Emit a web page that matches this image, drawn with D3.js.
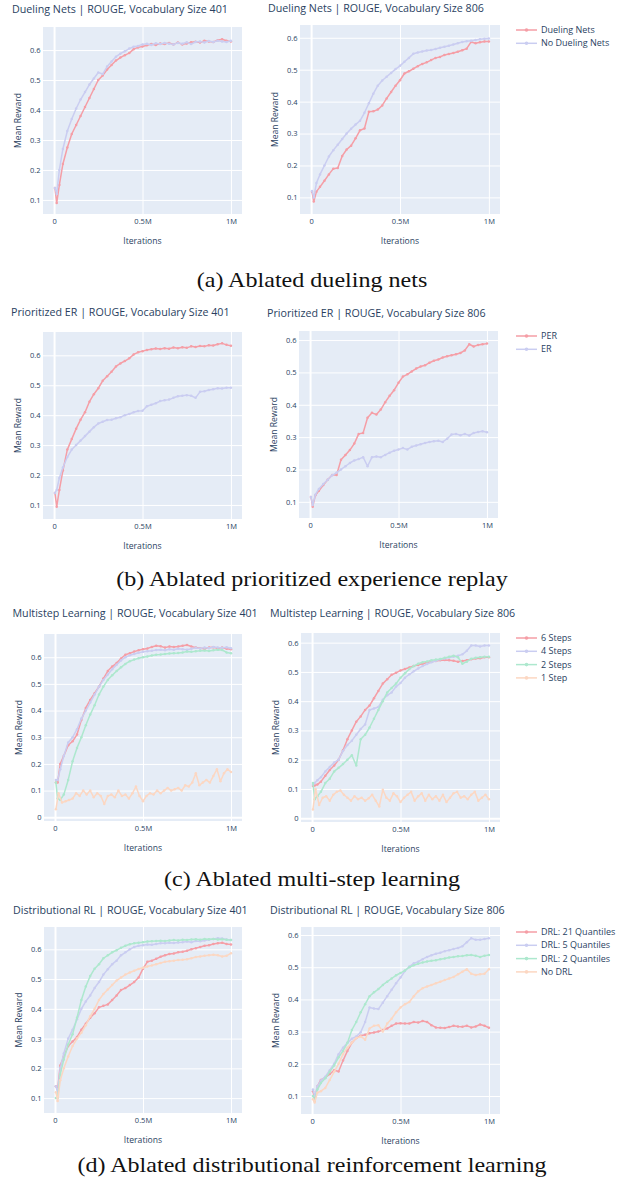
<!DOCTYPE html>
<html><head><meta charset="utf-8">
<script src="https://cdn.jsdelivr.net/npm/d3@7"></script>
<style>body{margin:0;background:#fff;} svg{display:block;}</style>
</head><body><svg id="chart" width="626" height="1179"></svg>
<script>
// ---------------- DATA ----------------
const iters = [
 0.005, 0.015, 0.03, 0.05, 0.075, 0.1, 0.125,
 0.15, 0.175, 0.2, 0.225, 0.25, 0.275, 0.3,
 0.325, 0.35, 0.375, 0.4, 0.425, 0.45, 0.475,
 0.5, 0.525, 0.55, 0.575, 0.6, 0.625, 0.65,
 0.675, 0.7, 0.725, 0.75, 0.775, 0.8, 0.825,
 0.85, 0.875, 0.9, 0.925, 0.95, 0.975, 1.0];
const itersFine = [
 0.005, 0.02, 0.04, 0.06, 0.08, 0.1, 0.12, 0.14, 0.16, 0.18,
 0.2, 0.22, 0.24, 0.26, 0.28, 0.3, 0.32, 0.34, 0.36, 0.38,
 0.4, 0.42, 0.44, 0.46, 0.48, 0.5, 0.52, 0.54, 0.56, 0.58,
 0.6, 0.62, 0.64, 0.66, 0.68, 0.7, 0.72, 0.74, 0.76, 0.78,
 0.8, 0.82, 0.84, 0.86, 0.88, 0.9, 0.92, 0.94, 0.96, 0.98,
 1.0];

const panelTitles = [
 "Dueling Nets | ROUGE, Vocabulary Size 401", "Dueling Nets | ROUGE, Vocabulary Size 806",
 "Prioritized ER | ROUGE, Vocabulary Size 401", "Prioritized ER | ROUGE, Vocabulary Size 806",
 "Multistep Learning | ROUGE, Vocabulary Size 401", "Multistep Learning | ROUGE, Vocabulary Size 806",
 "Distributional RL | ROUGE, Vocabulary Size 401", "Distributional RL | ROUGE, Vocabulary Size 806"];
const captions = ["(a) Ablated dueling nets", "(b) Ablated prioritized experience replay",
 "(c) Ablated multi-step learning", "(d) Ablated distributional reinforcement learning"];
const legendDueling = ["Dueling Nets", "No Dueling Nets"];
const legendPER = ["PER", "ER"];
const legendSteps = ["6 Steps", "4 Steps", "2 Steps", "1 Step"];
const legendDRL = ["DRL: 21 Quantiles", "DRL: 5 Quantiles", "DRL: 2 Quantiles", "No DRL"];
const xTickValues = [0, 0.5, 1];
const xTickLabels = ["0", "0.5M", "1M"];
const yTicksFrom01 = [0.1, 0.2, 0.3, 0.4, 0.5, 0.6];
const yTicksFrom0 = [0, 0.1, 0.2, 0.3, 0.4, 0.5, 0.6];
const xAxisTitle = "Iterations";
const yAxisTitle = "Mean Reward";

// (a) Dueling nets
const duel401_dueling = [
 0.14, 0.09, 0.15, 0.22, 0.275, 0.32, 0.35,
 0.38, 0.41, 0.44, 0.47, 0.50, 0.515, 0.535,
 0.55, 0.565, 0.575, 0.583, 0.59, 0.603, 0.609,
 0.612, 0.616, 0.62, 0.617, 0.622, 0.62, 0.624,
 0.619, 0.625, 0.619, 0.622, 0.626, 0.628, 0.625,
 0.631, 0.629, 0.627, 0.633, 0.636, 0.631, 0.629];
const duel401_noDueling = [
 0.14, 0.12, 0.2, 0.27, 0.33, 0.37, 0.405,
 0.435, 0.46, 0.485, 0.505, 0.525, 0.52, 0.545,
 0.562, 0.578, 0.588, 0.596, 0.605, 0.611, 0.614,
 0.619, 0.621, 0.617, 0.623, 0.62, 0.624, 0.621,
 0.619, 0.624, 0.621, 0.626, 0.62, 0.627, 0.629,
 0.625, 0.63, 0.627, 0.631, 0.629, 0.627, 0.631];
const duel806_dueling = [
 0.118, 0.087, 0.118, 0.133, 0.152, 0.172, 0.19,
 0.192, 0.23, 0.25, 0.262, 0.285, 0.31, 0.316,
 0.368, 0.37, 0.375, 0.388, 0.41, 0.43, 0.45,
 0.467, 0.488, 0.495, 0.503, 0.511, 0.518, 0.523,
 0.53, 0.537, 0.54, 0.546, 0.549, 0.552, 0.556,
 0.561, 0.566, 0.587, 0.583, 0.586, 0.588, 0.588];
const duel806_noDueling = [
 0.12, 0.1, 0.145, 0.172, 0.2, 0.228, 0.248,
 0.265, 0.283, 0.3, 0.315, 0.328, 0.34, 0.365,
 0.395, 0.425, 0.45, 0.466, 0.478, 0.49, 0.502,
 0.512, 0.525, 0.537, 0.55, 0.554, 0.557, 0.56,
 0.562, 0.565, 0.569, 0.572, 0.575, 0.579, 0.583,
 0.587, 0.589, 0.591, 0.593, 0.595, 0.597, 0.598];

// (b) Prioritized experience replay
const per401_per = [
 0.14, 0.094, 0.15, 0.215, 0.285, 0.32, 0.355,
 0.385, 0.41, 0.445, 0.47, 0.49, 0.515, 0.53,
 0.545, 0.563, 0.573, 0.581, 0.59, 0.603, 0.61,
 0.614, 0.618, 0.62, 0.623, 0.621, 0.624, 0.622,
 0.626, 0.624, 0.627, 0.625, 0.63, 0.628, 0.631,
 0.63, 0.634, 0.633, 0.637, 0.64, 0.635, 0.632];
const per401_er = [
 0.14, 0.15, 0.19, 0.225, 0.26, 0.285, 0.3,
 0.315, 0.33, 0.345, 0.36, 0.372, 0.378, 0.384,
 0.385, 0.39, 0.393, 0.4, 0.404, 0.41, 0.414,
 0.415, 0.43, 0.435, 0.44, 0.447, 0.45, 0.452,
 0.458, 0.463, 0.465, 0.467, 0.465, 0.458, 0.478,
 0.48, 0.484, 0.487, 0.49, 0.489, 0.492, 0.492];
const per806_per = [
 0.115, 0.085, 0.12, 0.134, 0.152, 0.168, 0.183,
 0.183, 0.23, 0.245, 0.26, 0.28, 0.31, 0.313,
 0.36, 0.375, 0.37, 0.385, 0.408, 0.428, 0.445,
 0.468, 0.487, 0.494, 0.503, 0.512, 0.518, 0.522,
 0.53, 0.536, 0.54, 0.546, 0.55, 0.553, 0.556,
 0.56, 0.568, 0.587, 0.58, 0.585, 0.587, 0.589];
const per806_er = [
 0.115, 0.09, 0.122, 0.14, 0.155, 0.168, 0.182,
 0.19, 0.2, 0.21, 0.22, 0.228, 0.232, 0.238,
 0.21, 0.238, 0.24, 0.238, 0.245, 0.252, 0.258,
 0.262, 0.266, 0.262, 0.27, 0.274, 0.278, 0.282,
 0.285, 0.287, 0.289, 0.285, 0.295, 0.308, 0.31,
 0.306, 0.31, 0.305, 0.313, 0.316, 0.318, 0.315];

// (c) Multi-step learning
const ms401_6 = [
 0.13, 0.13, 0.2, 0.23, 0.27, 0.285, 0.31,
 0.365, 0.41, 0.44, 0.465, 0.49, 0.52, 0.548,
 0.565, 0.578, 0.595, 0.609, 0.615, 0.621, 0.626,
 0.63, 0.633, 0.638, 0.643, 0.641, 0.636, 0.64,
 0.638, 0.64, 0.643, 0.646, 0.64, 0.636, 0.634,
 0.632, 0.636, 0.637, 0.634, 0.636, 0.632, 0.63];
const ms401_4 = [
 0.14, 0.14, 0.18, 0.23, 0.28, 0.3, 0.33,
 0.37, 0.4, 0.43, 0.46, 0.49, 0.515, 0.535,
 0.555, 0.572, 0.588, 0.6, 0.607, 0.612, 0.617,
 0.62, 0.622, 0.624, 0.627, 0.628, 0.626, 0.63,
 0.628, 0.632, 0.63, 0.628, 0.632, 0.635, 0.633,
 0.636, 0.634, 0.638, 0.636, 0.635, 0.637, 0.634];
const ms401_2 = [
 0.13, 0.07, 0.065, 0.085, 0.14, 0.21, 0.26,
 0.3, 0.345, 0.385, 0.42, 0.46, 0.49, 0.515,
 0.532, 0.548, 0.562, 0.575, 0.585, 0.591, 0.596,
 0.6, 0.603, 0.606, 0.609, 0.61, 0.612, 0.614,
 0.615, 0.616, 0.618, 0.621, 0.62, 0.622, 0.624,
 0.625, 0.623, 0.626, 0.628, 0.627, 0.618, 0.615];
const ms401_1 = [
 0.03, 0.09, 0.055, 0.06, 0.065, 0.07, 0.09, 0.08, 0.1, 0.085,
 0.1, 0.075, 0.09, 0.08, 0.05, 0.08, 0.085, 0.075, 0.1, 0.08,
 0.085, 0.07, 0.09, 0.115, 0.08, 0.06, 0.08, 0.09, 0.085, 0.1,
 0.09, 0.1, 0.11, 0.1, 0.105, 0.11, 0.1, 0.12, 0.115, 0.13,
 0.165, 0.12, 0.13, 0.14, 0.13, 0.155, 0.18, 0.135, 0.165, 0.18,
 0.17];
const ms806_6 = [
 0.11, 0.112, 0.115, 0.125, 0.145, 0.165, 0.18,
 0.2, 0.232, 0.27, 0.3, 0.33, 0.348, 0.37,
 0.385, 0.41, 0.435, 0.46, 0.475, 0.49, 0.497,
 0.505, 0.51, 0.515, 0.52, 0.524, 0.528, 0.532,
 0.535, 0.537, 0.54, 0.541, 0.54, 0.538, 0.535,
 0.537, 0.54, 0.543, 0.546, 0.547, 0.55, 0.55];
const ms806_4 = [
 0.115, 0.12, 0.13, 0.14, 0.16, 0.175, 0.19,
 0.2, 0.23, 0.25, 0.265, 0.285, 0.305, 0.32,
 0.37, 0.375, 0.38, 0.405, 0.42, 0.43, 0.45,
 0.462, 0.48, 0.492, 0.502, 0.512, 0.52, 0.527,
 0.533, 0.538, 0.543, 0.546, 0.549, 0.552, 0.555,
 0.56, 0.572, 0.59, 0.59, 0.587, 0.59, 0.59];
const ms806_2 = [
 0.12, 0.065, 0.075, 0.09, 0.12, 0.135, 0.16,
 0.172, 0.185, 0.2, 0.215, 0.18, 0.27, 0.285,
 0.31, 0.34, 0.37, 0.4, 0.43, 0.445, 0.46,
 0.48, 0.495, 0.51, 0.52, 0.528, 0.533, 0.536,
 0.54, 0.542, 0.544, 0.548, 0.552, 0.555, 0.55,
 0.528, 0.535, 0.545, 0.548, 0.55, 0.552, 0.552];
const ms806_1 = [
 0.03, 0.1, 0.045, 0.07, 0.075, 0.06, 0.08, 0.09, 0.095, 0.08,
 0.07, 0.06, 0.075, 0.065, 0.07, 0.06, 0.068, 0.08, 0.06, 0.04,
 0.097, 0.07, 0.06, 0.085, 0.075, 0.055, 0.07, 0.08, 0.09, 0.06,
 0.075, 0.085, 0.06, 0.08, 0.065, 0.075, 0.06, 0.08, 0.055, 0.07,
 0.085, 0.09, 0.07, 0.075, 0.065, 0.08, 0.09, 0.06, 0.07, 0.08,
 0.065];

// (d) Distributional RL
const drl401_21 = [
 0.14, 0.13, 0.21, 0.24, 0.275, 0.29, 0.305,
 0.33, 0.35, 0.37, 0.385, 0.405, 0.41, 0.415,
 0.43, 0.445, 0.463, 0.47, 0.48, 0.49, 0.505,
 0.535, 0.558, 0.562, 0.568, 0.575, 0.58, 0.584,
 0.586, 0.59, 0.592, 0.595, 0.6, 0.604, 0.608,
 0.612, 0.614, 0.618, 0.62, 0.622, 0.618, 0.616];
const drl401_5 = [
 0.14, 0.12, 0.2, 0.25, 0.3, 0.33, 0.365,
 0.4, 0.425, 0.445, 0.47, 0.49, 0.515, 0.533,
 0.55, 0.562, 0.58, 0.59, 0.6, 0.608, 0.612,
 0.614, 0.616, 0.615, 0.618, 0.62, 0.62, 0.622,
 0.621, 0.623, 0.624, 0.626, 0.624, 0.628, 0.627,
 0.63, 0.632, 0.635, 0.637, 0.636, 0.633, 0.631];
const drl401_2 = [
 0.1, 0.1, 0.18, 0.23, 0.28, 0.315, 0.37,
 0.43, 0.475, 0.51, 0.535, 0.55, 0.57, 0.58,
 0.59, 0.597, 0.605, 0.612, 0.617, 0.62, 0.622,
 0.624, 0.626, 0.627, 0.628, 0.629, 0.628, 0.63,
 0.631, 0.63, 0.632, 0.631, 0.633, 0.634, 0.632,
 0.635, 0.634, 0.635, 0.633, 0.634, 0.632, 0.631];
const drl401_none = [
 0.12, 0.09, 0.16, 0.2, 0.24, 0.275, 0.3,
 0.32, 0.345, 0.375, 0.4, 0.43, 0.45, 0.465,
 0.48, 0.495, 0.505, 0.515, 0.522, 0.528, 0.534,
 0.538, 0.542, 0.546, 0.55, 0.554, 0.558, 0.56,
 0.562, 0.564, 0.565, 0.567, 0.57, 0.574, 0.576,
 0.578, 0.58, 0.582, 0.58, 0.576, 0.578, 0.587];
const drl806_21 = [
 0.115, 0.085, 0.13, 0.15, 0.158, 0.168, 0.18,
 0.176, 0.21, 0.24, 0.265, 0.28, 0.287, 0.29,
 0.295, 0.297, 0.3, 0.305, 0.31, 0.318, 0.325,
 0.326, 0.325, 0.325, 0.33, 0.328, 0.333, 0.33,
 0.32, 0.313, 0.312, 0.311, 0.314, 0.318, 0.316,
 0.315, 0.318, 0.313, 0.316, 0.322, 0.318, 0.312];
const drl806_5 = [
 0.12, 0.1, 0.13, 0.148, 0.16, 0.18, 0.2,
 0.23, 0.25, 0.265, 0.278, 0.285, 0.298, 0.33,
 0.375, 0.372, 0.37, 0.39, 0.41, 0.43, 0.45,
 0.468, 0.488, 0.502, 0.512, 0.517, 0.525, 0.532,
 0.537, 0.542, 0.545, 0.55, 0.553, 0.557, 0.56,
 0.565, 0.578, 0.59, 0.585, 0.585, 0.588, 0.59];
const drl806_2 = [
 0.1, 0.085, 0.12, 0.14, 0.155, 0.175, 0.195,
 0.22, 0.24, 0.265, 0.305, 0.33, 0.36, 0.385,
 0.41, 0.422, 0.432, 0.445, 0.455, 0.465, 0.475,
 0.482, 0.49, 0.5, 0.506, 0.511, 0.515, 0.518,
 0.52, 0.522, 0.525, 0.527, 0.53, 0.532, 0.534,
 0.535, 0.537, 0.538, 0.536, 0.532, 0.536, 0.538];
const drl806_none = [
 0.09, 0.08, 0.11, 0.115, 0.125, 0.15, 0.175,
 0.2, 0.23, 0.25, 0.265, 0.28, 0.285, 0.275,
 0.31, 0.318, 0.32, 0.3, 0.325, 0.34, 0.36,
 0.375, 0.385, 0.392, 0.41, 0.425, 0.435, 0.44,
 0.445, 0.45, 0.455, 0.46, 0.465, 0.47, 0.478,
 0.486, 0.494, 0.48, 0.476, 0.478, 0.48, 0.494];

// ---------------- STYLE / LAYOUT ----------------
const FONT = "'Open Sans', sans-serif";
const TXT = "#2a3f5f";
const colors = ["#f59ea6", "#cacdf1", "#ade8ce", "#fcd7c2"];

const panels = [
 {title: panelTitles[0], tx: 12, ty: 13, box: {l: 43, t: 27, r: 242, b: 214}, yDom: [0.053, 0.677], yTicks: yTicksFrom01,
  series: [[iters, duel401_dueling], [iters, duel401_noDueling]], legend: null},
 {title: panelTitles[1], tx: 268, ty: 12, box: {l: 300, t: 25, r: 500, b: 214}, yDom: [0.048, 0.64], yTicks: yTicksFrom01,
  series: [[iters, duel806_dueling], [iters, duel806_noDueling]], legend: legendDueling},
 {title: panelTitles[2], tx: 11, ty: 316, box: {l: 43, t: 332, r: 242, b: 519}, yDom: [0.053, 0.678], yTicks: yTicksFrom01,
  series: [[iters, per401_per], [iters, per401_er]], legend: null},
 {title: panelTitles[3], tx: 267, ty: 316.5, box: {l: 299, t: 331, r: 498, b: 518}, yDom: [0.05, 0.628], yTicks: yTicksFrom01,
  series: [[iters, per806_per], [iters, per806_er]], legend: legendPER},
 {title: panelTitles[4], tx: 12.5, ty: 617, box: {l: 44, t: 634, r: 242, b: 821}, yDom: [-0.014, 0.687], yTicks: yTicksFrom0,
  series: [[iters, ms401_6], [iters, ms401_4], [iters, ms401_2], [itersFine, ms401_1]], legend: null},
 {title: panelTitles[5], tx: 270, ty: 617, box: {l: 301, t: 633, r: 500, b: 822}, yDom: [-0.013, 0.633], yTicks: yTicksFrom0,
  series: [[iters, ms806_6], [iters, ms806_4], [iters, ms806_2], [itersFine, ms806_1]], legend: legendSteps},
 {title: panelTitles[6], tx: 13, ty: 914, box: {l: 44, t: 927, r: 242, b: 1113}, yDom: [0.05, 0.675], yTicks: yTicksFrom01,
  series: [[iters, drl401_21], [iters, drl401_5], [iters, drl401_2], [iters, drl401_none]], legend: null},
 {title: panelTitles[7], tx: 270, ty: 913.5, box: {l: 301, t: 927, r: 500, b: 1114}, yDom: [0.044, 0.625], yTicks: yTicksFrom01,
  series: [[iters, drl806_21], [iters, drl806_5], [iters, drl806_2], [iters, drl806_none]], legend: legendDRL}
];
const captionBaselines = [287, 586, 886, 1172];

const svg = d3.select("#chart");
svg.append("rect").attr("width", 626).attr("height", 1179).attr("fill", "#fff");

const fmtY = d => d === 0 ? "0" : d3.format(".1f")(d);

panels.forEach((p, pi) => {
  const {l, t, r, b} = p.box;
  const x = d3.scaleLinear().domain([-0.0625, 1.0625]).range([l, r]);
  const y = d3.scaleLinear().domain(p.yDom).range([b, t]);
  const g = svg.append("g");

  g.append("rect").attr("x", l).attr("y", t).attr("width", r - l).attr("height", b - t).attr("fill", "#e5ecf6");

  // gridlines through axes
  const gy = g.append("g").attr("transform", `translate(${l},0)`)
    .call(d3.axisLeft(y).tickValues(p.yTicks).tickSize(-(r - l)).tickFormat(""));
  gy.select(".domain").remove();
  gy.selectAll("line").attr("stroke", "#fff").attr("stroke-width", d => d === 0 ? 2 : 1);
  const gx = g.append("g").attr("transform", `translate(0,${b})`)
    .call(d3.axisBottom(x).tickValues(xTickValues).tickSize(-(b - t)).tickFormat(""));
  gx.select(".domain").remove();
  gx.selectAll("line").attr("stroke", "#fff").attr("stroke-width", d => d === 0 ? 2 : 1);

  // tick labels
  const ly = g.append("g").attr("transform", `translate(${l},0)`)
    .call(d3.axisLeft(y).tickValues(p.yTicks).tickSize(0).tickPadding(2.5).tickFormat(fmtY));
  ly.select(".domain").remove();
  ly.selectAll("text").attr("font-family", FONT).attr("font-size", 7.5).attr("fill", TXT);
  const lx = g.append("g").attr("transform", `translate(0,${b})`)
    .call(d3.axisBottom(x).tickValues(xTickValues).tickSize(0).tickPadding(4.3).tickFormat((d, i) => xTickLabels[i]));
  lx.select(".domain").remove();
  lx.selectAll("text").attr("font-family", FONT).attr("font-size", 7.5).attr("fill", TXT);

  // axis titles
  g.append("text").attr("x", (l + r) / 2).attr("y", b + 30).attr("text-anchor", "middle")
    .attr("font-family", FONT).attr("font-size", 8.6).attr("fill", TXT).text(xAxisTitle);
  g.append("text").attr("transform", `translate(${l - 22},${(t + b) / 2}) rotate(-90)`).attr("text-anchor", "middle")
    .attr("font-family", FONT).attr("font-size", 8.6).attr("fill", TXT).text(yAxisTitle);

  // title
  g.append("text").attr("x", p.tx).attr("y", p.ty).attr("font-family", FONT).attr("font-size", 10.7)
    .attr("fill", TXT).text(p.title);

  // clip
  const cid = "clip" + pi;
  svg.append("clipPath").attr("id", cid).append("rect").attr("x", l).attr("y", t).attr("width", r - l).attr("height", b - t);
  const plot = g.append("g").attr("clip-path", `url(#${cid})`);
  const line = d3.line().x(d => x(d[0])).y(d => y(d[1]));
  p.series.forEach((s, si) => {
    const pts = s[0].map((xv, i) => [xv, s[1][i]]);
    plot.append("path").datum(pts).attr("d", line).attr("fill", "none")
      .attr("stroke", colors[si]).attr("stroke-width", 1.5).attr("stroke-linejoin", "round");
    plot.selectAll(null).data(pts).join("circle").attr("cx", d => x(d[0])).attr("cy", d => y(d[1]))
      .attr("r", 1.25).attr("fill", colors[si]);
  });

  // legend
  if (p.legend) {
    const lg = svg.append("g");
    p.legend.forEach((name, i) => {
      const yy = t + 5 + i * 13.3;
      lg.append("line").attr("x1", 516).attr("x2", 537).attr("y1", yy).attr("y2", yy)
        .attr("stroke", colors[i]).attr("stroke-width", 1.5);
      lg.append("circle").attr("cx", 526.5).attr("cy", yy).attr("r", 1.8).attr("fill", colors[i]);
      lg.append("text").attr("x", 541).attr("y", yy).attr("dy", "0.35em").attr("font-family", FONT)
        .attr("font-size", 9).attr("fill", TXT).text(name);
    });
  }
});

captions.forEach((c, i) => {
  svg.append("text").attr("transform", `translate(312,${captionBaselines[i]}) scale(1.12,1)`)
    .attr("text-anchor", "middle")
    .attr("font-family", "'Liberation Serif', 'DejaVu Serif', serif").attr("font-size", 21.5)
    .attr("fill", "#111").text(c);
});
</script></body></html>
